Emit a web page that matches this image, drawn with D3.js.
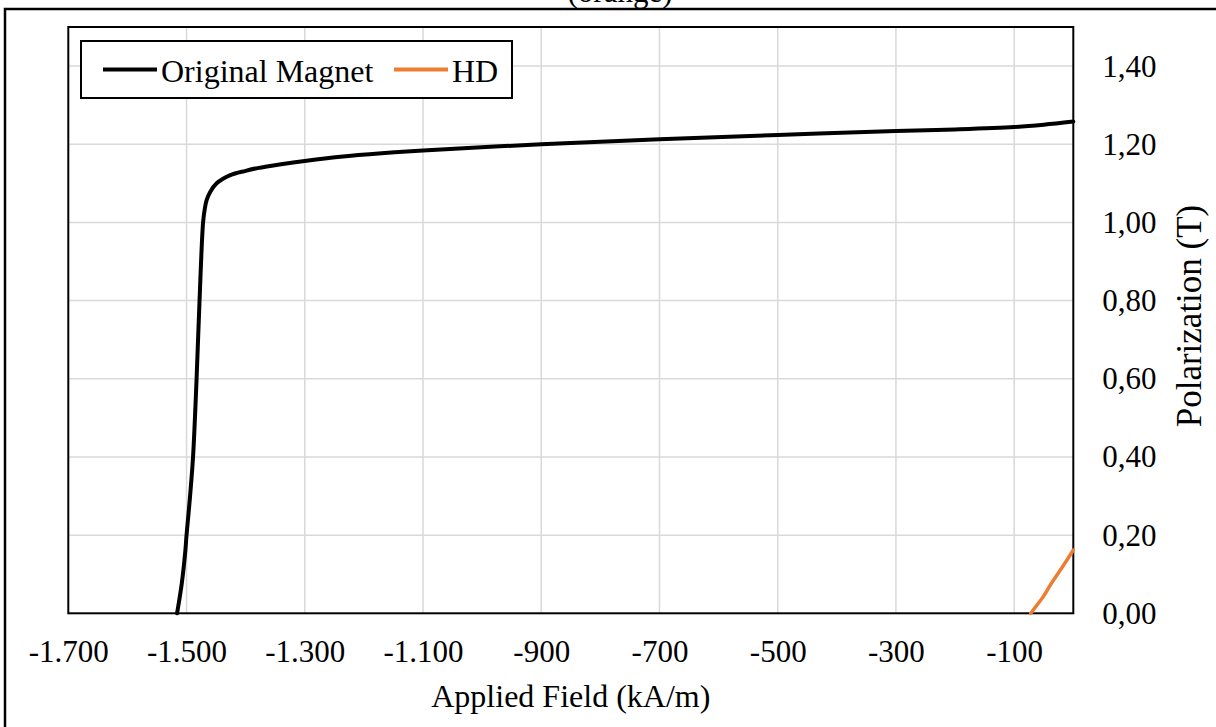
<!DOCTYPE html>
<html>
<head>
<meta charset="utf-8">
<script src="https://cdn.jsdelivr.net/npm/d3@7"></script>
<style>
	body { margin: 0; background: #ffffff; }
	svg { display: block; font-family: 'Liberation Serif', 'Times New Roman', serif; }
</style>
</head>
<body>
<div id="chart"></div>
<script>
// Demagnetisation curves
const seriesNames = ['Original Magnet', 'HD'];
const seriesColours = ['#000000', '#ED7D31'];

// Original magnet: applied field (kA/m) and polarization (T)
const fieldOriginal = [-1516, -1508, -1502, -1500, -1494, -1489, -1483, -1478, -1472, -1469, -1466, -1460, -1449, -1426, -1400, -1380, -1340, -1297, -1240, -1170, -1100, -900, -700, -500, -300, -200, -100, -50, 0];
const polOriginal = [0, 0.077, 0.16, 0.2, 0.3, 0.4, 0.6, 0.8, 1.0, 1.036, 1.057, 1.078, 1.1, 1.121, 1.132, 1.139, 1.149, 1.158, 1.168, 1.177, 1.184, 1.2, 1.213, 1.224, 1.234, 1.238, 1.244, 1.25, 1.258];

// HD sample
const fieldHD = [-72, -62, -51, -37, -16, 0];
const polHD = [0, 0.02, 0.042, 0.077, 0.124, 0.162];

// Axis ticks
const xTicks = [-1700, -1500, -1300, -1100, -900, -700, -500, -300, -100];
const yTicks = [0, 0.2, 0.4, 0.6, 0.8, 1.0, 1.2, 1.4];
const xDomain = [-1700, 0];
const yDomain = [0, 1.5];

const chartTitle = '(orange)';
const xTitle = 'Applied Field (kA/m)';
const yTitle = 'Polarization (T)';

// european number style: 1.700 and 1,40
const locale = d3.formatLocale({ decimal: ',', thousands: '.', grouping: [3], currency: ['', ''], minus: '-' });

const width = 1216;
const height = 727;
const margin = { left: 68.3, top: 27, right: 1073.3, bottom: 613.3 };

const svg = d3.select('#chart')
	.append('svg')
	.attr('width', width)
	.attr('height', height);

// outer chart frame (runs off the right and bottom edges)
svg.append('rect')
	.attr('x', 5)
	.attr('y', 9)
	.attr('width', width + 20)
	.attr('height', height + 20)
	.attr('fill', '#ffffff')
	.attr('stroke', '#000000')
	.attr('stroke-width', 2.5);

// title is cropped by the top edge, as in the source picture
svg.append('text')
	.attr('x', 620)
	.attr('y', 2)
	.attr('text-anchor', 'middle')
	.attr('font-size', 31)
	.text(chartTitle);

const x = d3.scaleLinear().domain(xDomain).range([margin.left, margin.right]);
const y = d3.scaleLinear().domain(yDomain).range([margin.bottom, margin.top]);

// grid lines
svg.append('g')
	.selectAll('line')
	.data(xTicks.slice(1))
	.join('line')
	.attr('x1', (d) => x(d))
	.attr('x2', (d) => x(d))
	.attr('y1', margin.top)
	.attr('y2', margin.bottom)
	.attr('stroke', '#d9d9d9')
	.attr('stroke-width', 1.5);

svg.append('g')
	.selectAll('line')
	.data(yTicks.slice(1))
	.join('line')
	.attr('x1', margin.left)
	.attr('x2', margin.right)
	.attr('y1', (d) => y(d))
	.attr('y2', (d) => y(d))
	.attr('stroke', '#d9d9d9')
	.attr('stroke-width', 1.5);

// plot area border
svg.append('rect')
	.attr('x', margin.left)
	.attr('y', margin.top)
	.attr('width', margin.right - margin.left)
	.attr('height', margin.bottom - margin.top)
	.attr('fill', 'none')
	.attr('stroke', '#000000')
	.attr('stroke-width', 2);

// axes (labels only, lines are the border)
const xAxis = svg.append('g')
	.attr('transform', `translate(0,${margin.bottom})`)
	.call(d3.axisBottom(x).tickValues(xTicks).tickSize(0).tickPadding(26.5).tickFormat(locale.format(',')));

const yAxis = svg.append('g')
	.attr('transform', `translate(${margin.right},0)`)
	.call(d3.axisRight(y).tickValues(yTicks).tickSize(0).tickPadding(29).tickFormat(locale.format('.2f')));

[xAxis, yAxis].forEach((axis) => {
	axis.select('.domain').remove();
	axis.selectAll('text')
		.attr('font-family', "'Liberation Serif', 'Times New Roman', serif")
		.attr('font-size', 31)
		.attr('fill', '#000000');
});

svg.append('text')
	.attr('x', (margin.left + margin.right) / 2)
	.attr('y', 707)
	.attr('text-anchor', 'middle')
	.attr('font-size', 32)
	.text(xTitle);

svg.append('text')
	.attr('transform', 'translate(1201,316) rotate(-90)')
	.attr('text-anchor', 'middle')
	.attr('font-size', 35)
	.text(yTitle);

// curves
const line = d3.line()
	.x((d) => x(d[0]))
	.y((d) => y(d[1]))
	.curve(d3.curveCatmullRom.alpha(0.5));

const series = [
	d3.zip(fieldOriginal, polOriginal),
	d3.zip(fieldHD, polHD),
];

svg.append('g')
	.selectAll('path')
	.data(series)
	.join('path')
	.attr('d', (d) => line(d))
	.attr('fill', 'none')
	.attr('stroke', (d, i) => seriesColours[i])
	.attr('stroke-width', (d, i) => (i === 0 ? 4 : 3.5))
	.attr('stroke-linecap', 'round');

// legend
const legend = svg.append('g');
legend.append('rect')
	.attr('x', 81)
	.attr('y', 41)
	.attr('width', 431)
	.attr('height', 57)
	.attr('fill', '#ffffff')
	.attr('stroke', '#000000')
	.attr('stroke-width', 2);

const legendX = [103, 394];
const items = legend.selectAll('g')
	.data(seriesNames)
	.join('g')
	.attr('transform', (d, i) => `translate(${legendX[i]},0)`);

items.append('line')
	.attr('x1', 0)
	.attr('x2', 54)
	.attr('y1', 69.5)
	.attr('y2', 69.5)
	.attr('stroke', (d, i) => seriesColours[i])
	.attr('stroke-width', 4);

items.append('text')
	.attr('x', 58)
	.attr('y', 82)
	.attr('font-size', 32)
	.text((d) => d);
</script>
</body>
</html>
